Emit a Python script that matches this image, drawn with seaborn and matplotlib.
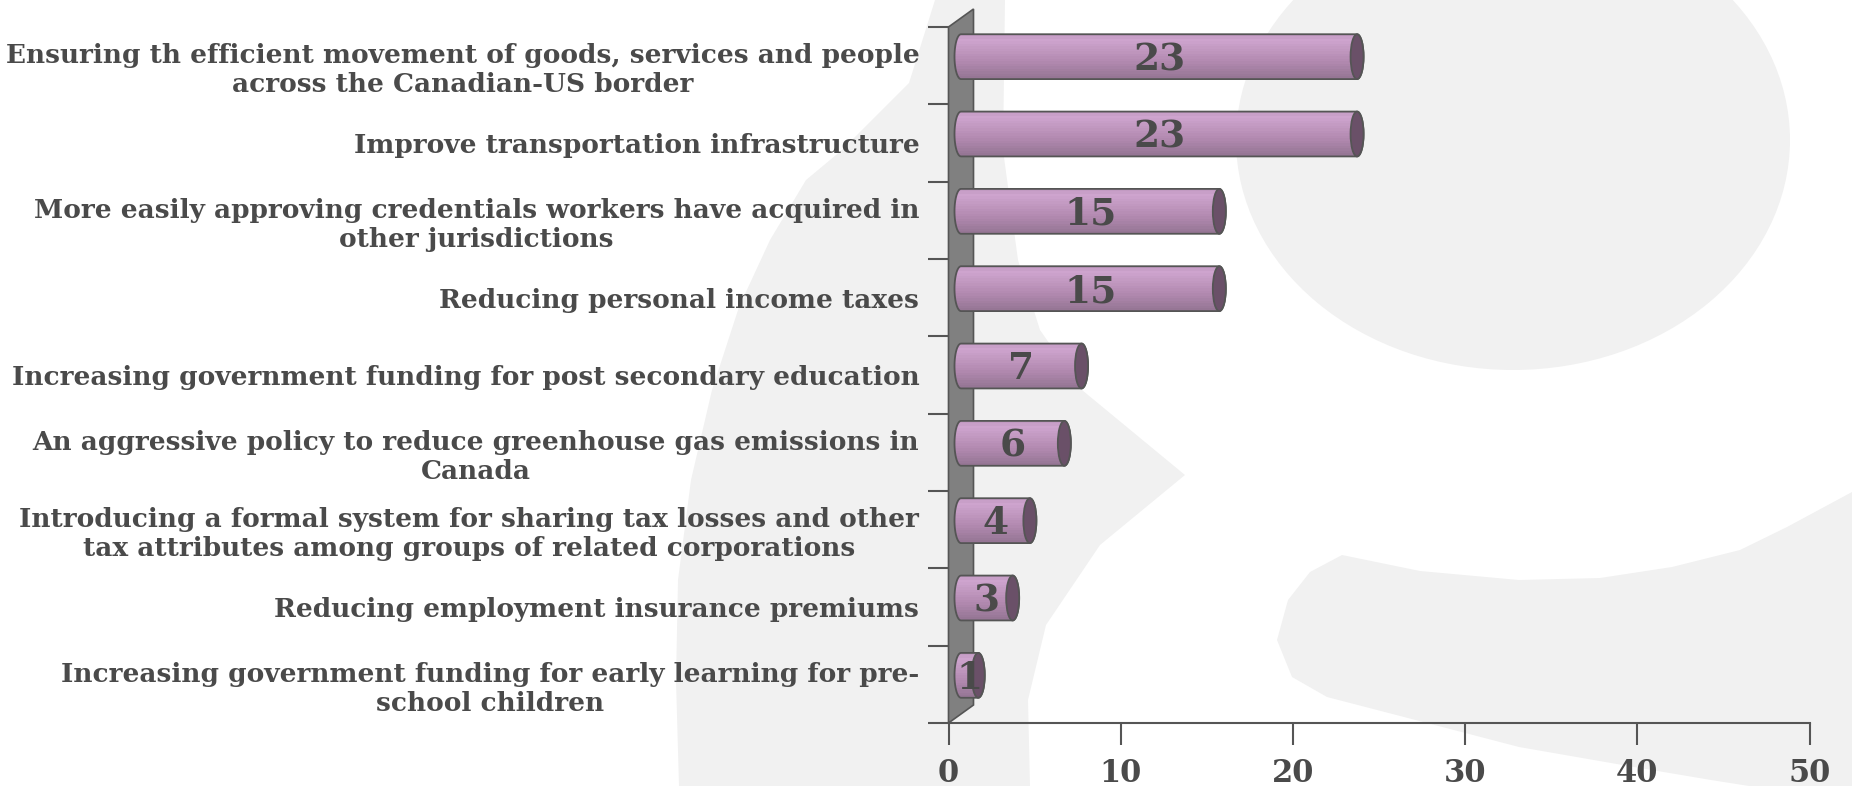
import numpy as np
import matplotlib
matplotlib.use("Agg")
import matplotlib.pyplot as plt
from matplotlib.patches import Polygon, Ellipse
from matplotlib.colors import to_rgb
import pandas as pd
import seaborn as sns

# ---- data -------------------------------------------------------------
categories = [
    "Ensuring th efficient movement of goods, services and people\nacross the Canadian-US border",
    "Improve transportation infrastructure",
    "More easily approving credentials workers have acquired in\nother jurisdictions",
    "Reducing personal income taxes",
    "Increasing government funding for post secondary education",
    "An aggressive policy to reduce greenhouse gas emissions in\nCanada",
    "Introducing a formal system for sharing tax losses and other\ntax attributes among groups of related corporations",
    "Reducing employment insurance premiums",
    "Increasing government funding for early learning for pre-\nschool children",
]
values = [23, 23, 15, 15, 7, 6, 4, 3, 1]
x_ticks = [0, 10, 20, 30, 40, 50]

# ---- style ------------------------------------------------------------
sns.set_style("white")
plt.rcParams["font.family"] = ["DejaVu Serif"]
TEXT = "#4a4a4a"
LINE = "#555555"
MARK = "#f1f1f1"

W, H, DPI = 1852, 786, 100
fig = plt.figure(figsize=(W / DPI, H / DPI), dpi=DPI)
fig.patch.set_facecolor("white")

# ---- faint letter-shaped watermark behind the chart --------------------
bg = fig.add_axes([0, 0, 1, 1], zorder=0)
bg.set_xlim(0, W)
bg.set_ylim(H, 0)
bg.axis("off")
crescent = [(935, 0), (909, 83), (842, 150), (806, 180), (770, 240), (739, 307),
            (712, 390), (691, 480), (678, 580), (676, 680), (679, 786),
            (1030, 786), (1028, 700), (1046, 625), (1100, 545), (1185, 475),
            (1082, 390), (1040, 330), (1018, 260), (1003, 150), (1005, 0)]
lower = [(1342, 555), (1420, 571), (1519, 580), (1600, 578), (1672, 567),
         (1740, 550), (1787, 527), (1852, 492), (1852, 786), (1749, 786),
         (1711, 780), (1634, 767), (1519, 747), (1404, 717), (1327, 697),
         (1292, 677), (1277, 640), (1288, 600), (1310, 572)]
bg.add_patch(Polygon(crescent, closed=True, fc=MARK, ec="none"))
bg.add_patch(Ellipse((1513, 140), 554, 460, fc=MARK, ec="none"))
bg.add_patch(Polygon(lower, closed=True, fc=MARK, ec="none"))

# ---- main axes --------------------------------------------------------
ax_l, ax_r, ax_t, ax_b = 948.5, 1809.5, 27, 723
ax = fig.add_axes([ax_l / W, (H - ax_b) / H, (ax_r - ax_l) / W, (ax_b - ax_t) / H], zorder=1)
ax.patch.set_alpha(0)

df = pd.DataFrame({"label": categories, "value": values})
sns.barplot(data=df, x="value", y="label", orient="h", width=0.58,
            color="#b58cb3", saturation=1, ax=ax)

n = len(categories)
xmax = x_ticks[-1]
px_x = (ax_r - ax_l) / xmax          # pixels per value unit
px_y = (ax_b - ax_t) / n             # pixels per category band

# 3-D depth of the chart (pixels), bars sit halfway into it
depth_x, depth_y = 25, 18
sx = 0.5 * depth_x / px_x
sy = -0.5 * depth_y / px_y
cw = 6.5 / px_x                      # half-width of the cylinder end caps

# back wall
wd, hd = depth_x / px_x, depth_y / px_y
wall = Polygon([(0, n - 0.5), (wd, n - 0.5 - hd), (wd, -0.5 - hd), (0, -0.5)],
               closed=True, fc="#808080", ec=LINE, lw=1.2, zorder=2, clip_on=False)
ax.add_patch(wall)

# vertical shading of the cylinders, top to bottom
stops = [(0.0, "#c29ac2"), (0.12, "#cfa5cf"), (0.3, "#c49bc3"),
         (0.6, "#b48bb2"), (1.0, "#967695")]
rows = 18
pos = np.linspace(0, 1, rows)
grad = np.zeros((rows, 1, 3))
sp = [s[0] for s in stops]
for c in range(3):
    grad[:, 0, c] = np.interp(pos, sp, [to_rgb(s[1])[c] for s in stops])

for rect, v in zip(ax.containers[0], df["value"]):
    x0, w = rect.get_x(), rect.get_width()
    y0, h = rect.get_y(), rect.get_height()
    rect.set_visible(False)
    xl, xr = x0 + sx, x0 + w + sx
    yc, hh = y0 + h / 2 + sy, h / 2
    t_r = np.linspace(-np.pi / 2, np.pi / 2, 30)
    t_l = np.linspace(np.pi / 2, 3 * np.pi / 2, 30)
    pts = np.vstack([
        np.column_stack([xr + cw * np.cos(t_r), yc + hh * np.sin(t_r)]),
        np.column_stack([xl + cw * np.cos(t_l), yc + hh * np.sin(t_l)]),
    ])
    body = Polygon(pts, closed=True, fc="none", ec=LINE, lw=1.3, zorder=4)
    ax.add_patch(body)
    im = ax.imshow(grad, extent=[xl - cw, xr + cw, yc + hh, yc - hh],
                   aspect="auto", interpolation="nearest", zorder=3)
    im.set_clip_path(body)
    ax.add_patch(Ellipse((xr, yc), 2 * cw, 2 * hh, fc="#6a5068", ec=LINE,
                         lw=1.3, zorder=5))
    ax.text((xl + xr) / 2, yc + 3 / px_y, f"{v:g}", ha="center", va="center",
            fontsize=27, fontweight="heavy", color=TEXT, zorder=6)

ax.set_xlim(0, xmax)
ax.set_ylim(n - 0.5, -0.5)
ax.set_xlabel("")
ax.set_ylabel("")
ax.grid(False)

# category axis: labels at band centres, ticks at band boundaries
ax.set_yticks(range(n))
ax.set_yticklabels(categories)
ax.set_yticks(np.arange(-0.5, n, 1), minor=True)
ax.tick_params(axis="y", which="major", left=True, length=0, pad=21)
ax.tick_params(axis="y", which="minor", left=True, length=15, width=1.5,
               color=LINE, direction="out")
for lab in ax.get_yticklabels():
    lab.set_fontsize(19)
    lab.set_fontweight("bold")
    lab.set_color(TEXT)
    lab.set_multialignment("center")

# value axis
ax.set_xticks(x_ticks)
ax.set_xticklabels([str(t) for t in x_ticks])
ax.tick_params(axis="x", which="major", bottom=True, length=16, width=1.5,
               color=LINE, pad=9, direction="out")
for lab in ax.get_xticklabels():
    lab.set_fontsize(22)
    lab.set_fontweight("bold")
    lab.set_color(TEXT)

for side in ("left", "top", "right"):
    ax.spines[side].set_visible(False)
ax.spines["bottom"].set_color(LINE)
ax.spines["bottom"].set_linewidth(1.5)

fig.savefig("out.png", dpi=DPI, facecolor="white")
